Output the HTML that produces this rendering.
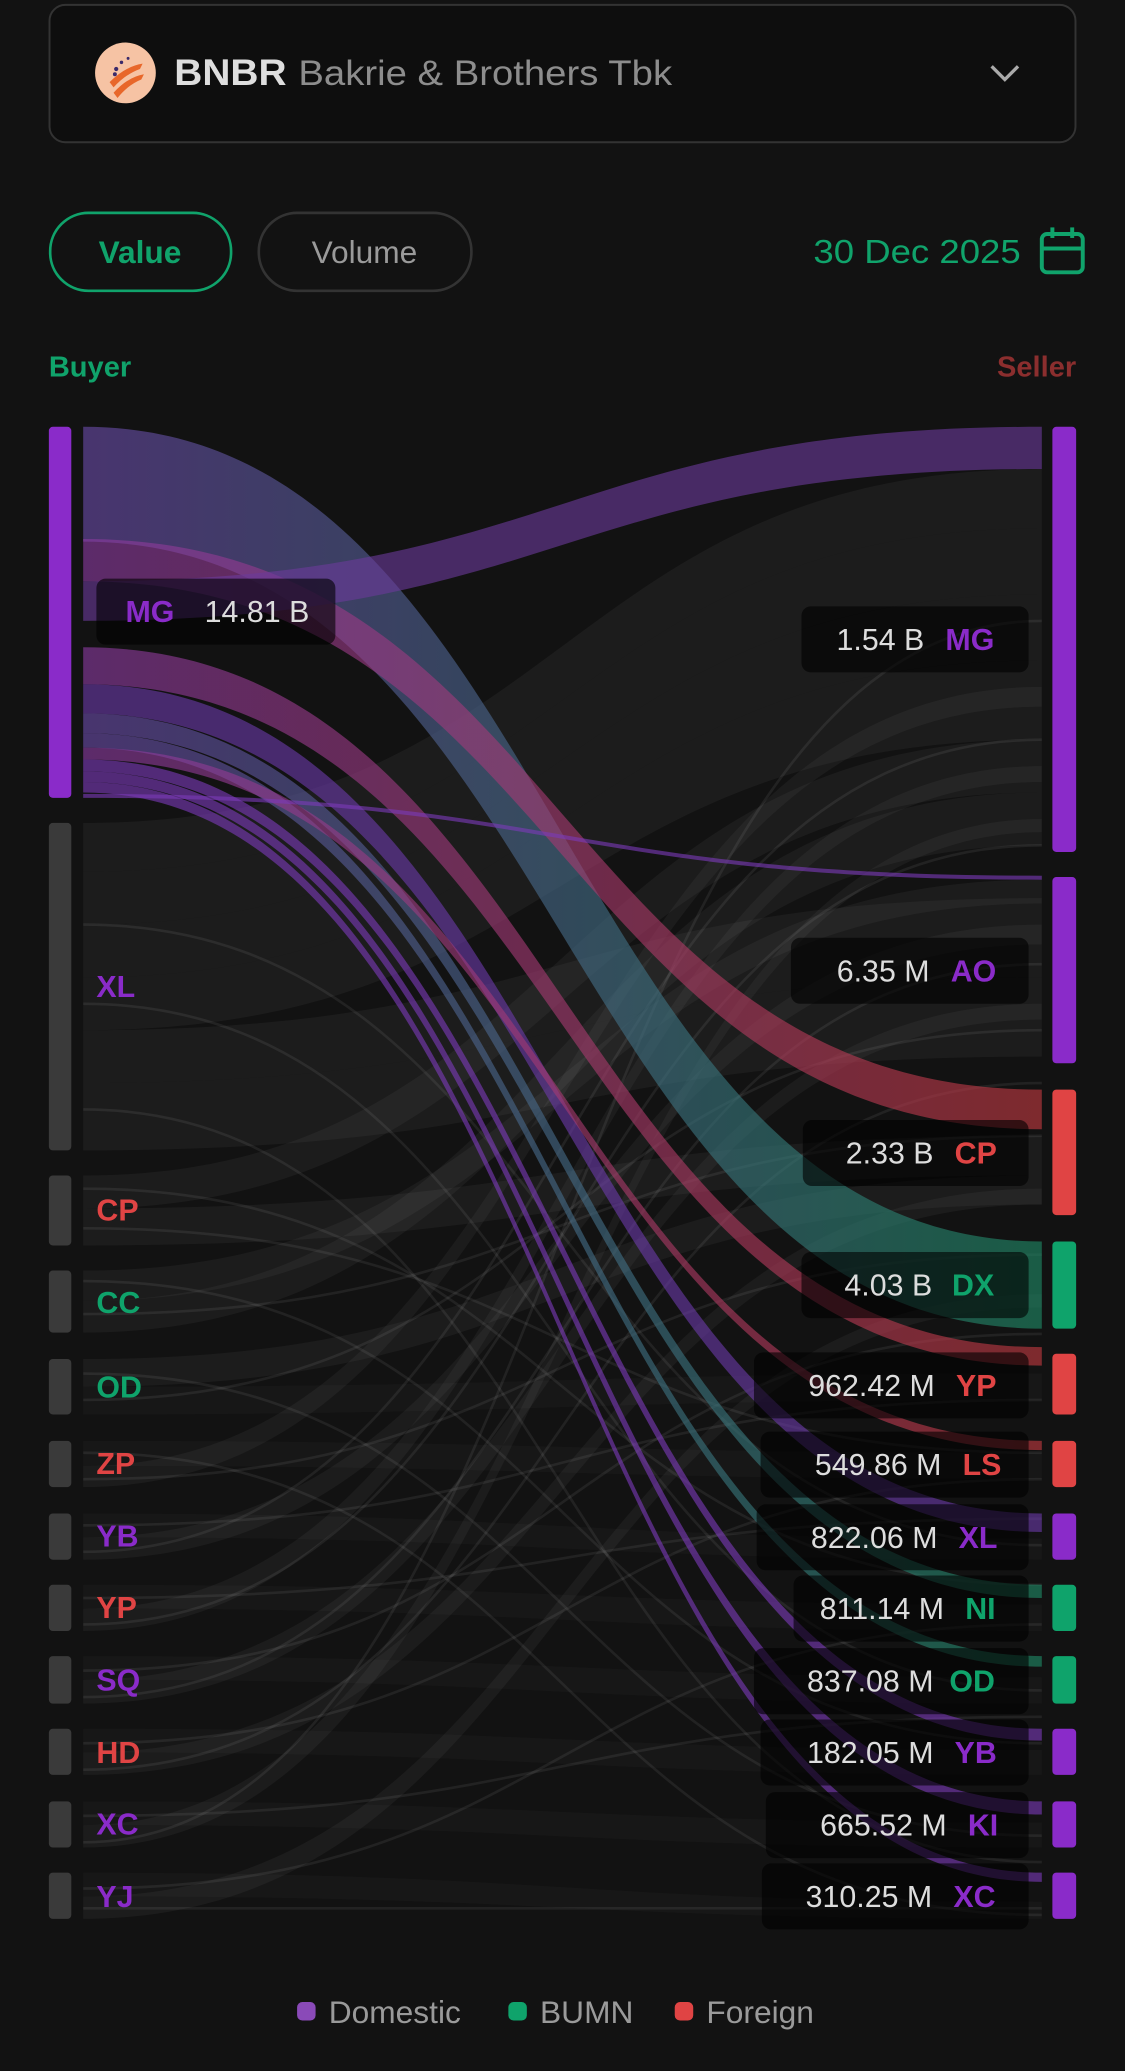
<!DOCTYPE html>
<html><head><meta charset="utf-8"><style>
html,body{margin:0;padding:0;background:#121212;}
svg{display:block}
text{font-family:"Liberation Sans",sans-serif;}
</style></head><body>
<svg width="1125" height="2071" viewBox="0 0 852 1568" xmlns="http://www.w3.org/2000/svg">
<defs>
<linearGradient id="gPG" x1="0" x2="1"><stop offset="0" stop-color="#6a4aa8"/><stop offset="1" stop-color="#1f8a66"/></linearGradient>
<linearGradient id="gPR" x1="0" x2="1"><stop offset="0" stop-color="#8a3aa0"/><stop offset="1" stop-color="#c0393f"/></linearGradient>
</defs>
<rect width="852" height="1568" fill="#121212"/>
<!-- header -->
<rect x="37.5" y="3.5" width="777" height="104" rx="12" fill="#0e0e0e" stroke="#333" stroke-width="1.5"/>
<circle cx="95" cy="55" r="23" fill="#f6c3a4"/>
<path d="M83 62 Q95 50 108 48 L106 52 Q95 56 86 66Z M86 70 Q97 58 109 56 L107 60 Q97 64 89 74Z" fill="#e8672a"/>
<circle cx="88" cy="52" r="1.6" fill="#3a2a6a"/><circle cx="92" cy="47" r="1.3" fill="#3a2a6a"/><circle cx="97" cy="44" r="1.1" fill="#3a2a6a"/><circle cx="87" cy="56" r="1.5" fill="#3a2a6a"/>
<text x="132" y="64" font-size="28" font-weight="bold" fill="#dedede" textLength="85" lengthAdjust="spacingAndGlyphs">BNBR</text>
<text x="226" y="64" font-size="27" fill="#8d8d8d" textLength="283" lengthAdjust="spacingAndGlyphs">Bakrie &amp; Brothers Tbk</text>
<path d="M751 50 L761 60 L771 50" fill="none" stroke="#aaa" stroke-width="2.5"/>
<!-- buttons -->
<rect x="38" y="161" width="137" height="59" rx="29" fill="none" stroke="#10a36b" stroke-width="2"/>
<text x="106" y="199" font-size="24" font-weight="bold" fill="#10a36b" text-anchor="middle">Value</text>
<rect x="196" y="161" width="161" height="59" rx="29" fill="none" stroke="#333" stroke-width="2"/>
<text x="276" y="199" font-size="24" fill="#9a9a9a" text-anchor="middle">Volume</text>
<text x="616" y="199" font-size="25" fill="#10a36b" textLength="157" lengthAdjust="spacingAndGlyphs">30 Dec 2025</text>
<rect x="789" y="177" width="31" height="29" rx="4" fill="none" stroke="#10a36b" stroke-width="3"/>
<line x1="789" y1="188" x2="820" y2="188" stroke="#10a36b" stroke-width="3"/>
<line x1="797" y1="172" x2="797" y2="180" stroke="#10a36b" stroke-width="3"/>
<line x1="812" y1="172" x2="812" y2="180" stroke="#10a36b" stroke-width="3"/>
<text x="37" y="285" font-size="22" font-weight="bold" fill="#10a36b">Buyer</text>
<text x="815" y="285" font-size="22" font-weight="bold" fill="#8b2e2e" text-anchor="end">Seller</text>

<!-- gray flows -->
<g fill="#ffffff" fill-opacity="0.045">
<path d="M63 623 C426 623 426 355 789 355 L789 400 C426 400 426 660 63 660Z"/>
<path d="M63 660 C426 660 426 400 789 400 L789 450 C426 450 426 700 63 700Z"/>
<path d="M63 700 C426 700 426 450 789 450 L789 500 C426 500 426 740 63 740Z"/>
<path d="M63 740 C426 740 426 500 789 500 L789 560 C426 560 426 780 63 780Z"/>
<path d="M63 780 C426 780 426 680 789 680 L789 740 C426 740 426 820 63 820Z"/>
<path d="M63 820 C426 820 426 740 789 740 L789 800 C426 800 426 871 63 871Z"/>
<path d="M63 890 C426 890 426 560 789 560 L789 600 C426 600 426 915 63 915Z"/>
<path d="M63 915 C426 915 426 860 789 860 L789 890 C426 890 426 943 63 943Z"/>
<path d="M63 962 C426 962 426 666 789 666 L789 684 C426 684 426 985 63 985Z"/>
<path d="M63 985 C426 985 426 600 789 600 L789 640 C426 640 426 1009 63 1009Z"/>
<path d="M63 1029 C426 1029 426 890 789 890 L789 912 C426 912 426 1050 63 1050Z"/>
<path d="M63 1110 C426 1110 426 520 789 520 L789 535 C426 535 426 1126 63 1126Z"/>
<path d="M63 1164 C426 1164 426 700 789 700 L789 715 C426 715 426 1181 63 1181Z"/>
<path d="M63 1218 C426 1218 426 580 789 580 L789 592 C426 592 426 1235 63 1235Z"/>
<path d="M63 1272 C426 1272 426 760 789 760 L789 772 C426 772 426 1290 63 1290Z"/>
<path d="M63 1327 C426 1327 426 900 789 900 L789 912 C426 912 426 1344 63 1344Z"/>
<path d="M63 1382 C426 1382 426 620 789 620 L789 630 C426 630 426 1399 63 1399Z"/>
<path d="M63 1436 C426 1436 426 980 789 980 L789 990 C426 990 426 1453 63 1453Z"/>
</g>
<g fill="#ffffff" fill-opacity="0.025">
<path d="M63 1050 C426 1050 426 1040 789 1040 L789 1060 C426 1060 426 1071 63 1071Z"/>
<path d="M63 1091 C426 1091 426 1100 789 1100 L789 1120 C426 1120 426 1110 63 1110Z"/>
<path d="M63 1146 C426 1146 426 1165 789 1165 L789 1181 C426 1181 426 1164 63 1164Z"/>
<path d="M63 1200 C426 1200 426 1215 789 1215 L789 1235 C426 1235 426 1218 63 1218Z"/>
<path d="M63 1254 C426 1254 426 1270 789 1270 L789 1290 C426 1290 426 1272 63 1272Z"/>
<path d="M63 1309 C426 1309 426 1325 789 1325 L789 1344 C426 1344 426 1327 63 1327Z"/>
<path d="M63 1364 C426 1364 426 1380 789 1380 L789 1399 C426 1399 426 1382 63 1382Z"/>
<path d="M63 1418 C426 1418 426 1440 789 1440 L789 1453 C426 1453 426 1436 63 1436Z"/>
</g>
<g fill="none" stroke="#ffffff" stroke-opacity="0.07" stroke-width="2">
<path d="M63 900 C426 900 426 1200 789 1200"/><path d="M63 970 C426 970 426 1320 789 1320"/>
<path d="M63 1040 C426 1040 426 1390 789 1390"/><path d="M63 1100 C426 1100 426 1450 789 1450"/>
<path d="M63 1155 C426 1155 426 1060 789 1060"/><path d="M63 1210 C426 1210 426 1150 789 1150"/>
<path d="M63 1265 C426 1265 426 1010 789 1010"/><path d="M63 1320 C426 1320 426 1120 789 1120"/>
<path d="M63 1375 C426 1375 426 1300 789 1300"/><path d="M63 1430 C426 1430 426 1230 789 1230"/>
<path d="M63 700 C426 700 426 1170 789 1170"/><path d="M63 760 C426 760 426 1280 789 1280"/>
<path d="M63 840 C426 840 426 1410 789 1410"/><path d="M63 930 C426 930 426 1100 789 1100"/>
<path d="M63 995 C426 995 426 860 789 860"/><path d="M63 1060 C426 1060 426 780 789 780"/>
<path d="M63 1120 C426 1120 426 950 789 950"/><path d="M63 1175 C426 1175 426 560 789 560"/>
<path d="M63 1230 C426 1230 426 640 789 640"/><path d="M63 1285 C426 1285 426 730 789 730"/>
<path d="M63 1340 C426 1340 426 820 789 820"/><path d="M63 1395 C426 1395 426 470 789 470"/>
<path d="M63 1445 C426 1445 426 1445 789 1445"/>
</g>

<!-- colored flows from MG -->
<g fill-opacity="0.62">
<path d="M63 323 C426 323 426 940 789 940 L789 1006 C426 1006 426 410 63 410Z" fill="url(#gPG)"/>
<path d="M63 408 C426 408 426 825 789 825 L789 855 C426 855 426 440 63 440Z" fill="url(#gPR)"/>
<path d="M63 440 C426 440 426 323 789 323 L789 355 C426 355 426 470 63 470Z" fill="#6a3a9a"/>
<path d="M63 490 C426 490 426 1020 789 1020 L789 1034 C426 1034 426 518 63 518Z" fill="url(#gPR)"/>
<path d="M63 518 C426 518 426 1146 789 1146 L789 1160 C426 1160 426 540 63 540Z" fill="#6a3aa8"/>
<path d="M63 540 C426 540 426 1200 789 1200 L789 1210 C426 1210 426 555 63 555Z" fill="url(#gPG)"/>
<path d="M63 555 C426 555 426 1254 789 1254 L789 1262 C426 1262 426 566 63 566Z" fill="url(#gPG)"/>
<path d="M63 566 C426 566 426 1091 789 1091 L789 1098 C426 1098 426 575 63 575Z" fill="url(#gPR)"/>
<path d="M63 575 C426 575 426 1309 789 1309 L789 1318 C426 1318 426 584 63 584Z" fill="#7a3ab8"/>
<path d="M63 584 C426 584 426 1364 789 1364 L789 1374 C426 1374 426 592 63 592Z" fill="#7a3ab8"/>
<path d="M63 592 C426 592 426 1418 789 1418 L789 1425 C426 1425 426 600 63 600Z" fill="#7a3ab8"/>
<path d="M63 601 C426 601 426 663 789 663 L789 666 C426 666 426 604 63 604Z" fill="#7a3ab8"/>
</g>

<!-- left bars -->
<g>
<rect x="37" y="323" width="17" height="281" rx="3" fill="#8a2bc9"/>
<rect x="37" y="623" width="17" height="248" rx="3" fill="#3a3a3a"/>
<rect x="37" y="890" width="17" height="53" rx="3" fill="#3a3a3a"/>
<rect x="37" y="962" width="17" height="47" rx="3" fill="#3a3a3a"/>
<rect x="37" y="1029" width="17" height="42" rx="3" fill="#3a3a3a"/>
<rect x="37" y="1091" width="17" height="35" rx="3" fill="#3a3a3a"/>
<rect x="37" y="1146" width="17" height="35" rx="3" fill="#3a3a3a"/>
<rect x="37" y="1200" width="17" height="35" rx="3" fill="#3a3a3a"/>
<rect x="37" y="1254" width="17" height="36" rx="3" fill="#3a3a3a"/>
<rect x="37" y="1309" width="17" height="35" rx="3" fill="#3a3a3a"/>
<rect x="37" y="1364" width="17" height="35" rx="3" fill="#3a3a3a"/>
<rect x="37" y="1418" width="17" height="35" rx="3" fill="#3a3a3a"/>
</g>
<!-- right bars -->
<g>
<rect x="797" y="323" width="18" height="322" rx="3" fill="#8a2bc9"/>
<rect x="797" y="664" width="18" height="141" rx="3" fill="#8a2bc9"/>
<rect x="797" y="825" width="18" height="95" rx="3" fill="#e04444"/>
<rect x="797" y="940" width="18" height="66" rx="3" fill="#0fa36b"/>
<rect x="797" y="1025" width="18" height="46" rx="3" fill="#e04444"/>
<rect x="797" y="1091" width="18" height="35" rx="3" fill="#e04444"/>
<rect x="797" y="1146" width="18" height="35" rx="3" fill="#8a2bc9"/>
<rect x="797" y="1200" width="18" height="35" rx="3" fill="#0fa36b"/>
<rect x="797" y="1254" width="18" height="36" rx="3" fill="#0fa36b"/>
<rect x="797" y="1309" width="18" height="35" rx="3" fill="#8a2bc9"/>
<rect x="797" y="1364" width="18" height="35" rx="3" fill="#8a2bc9"/>
<rect x="797" y="1418" width="18" height="35" rx="3" fill="#8a2bc9"/>
</g>

<!-- left labels -->
<g font-size="23" font-weight="bold">
<rect x="73" y="438" width="181" height="50" rx="7" fill="#000" fill-opacity="0.6"/>
<text x="95" y="471" fill="#8a2bc9">MG</text>
<text x="155" y="471" font-weight="normal" fill="#ddd">14.81 B</text>
<text x="73" y="755" fill="#8a2bc9">XL</text>
<text x="73" y="924" fill="#e04444">CP</text>
<text x="73" y="994" fill="#0fa36b">CC</text>
<text x="73" y="1058" fill="#0fa36b">OD</text>
<text x="73" y="1116" fill="#e04444">ZP</text>
<text x="73" y="1171" fill="#8a2bc9">YB</text>
<text x="73" y="1225" fill="#e04444">YP</text>
<text x="73" y="1280" fill="#8a2bc9">SQ</text>
<text x="73" y="1335" fill="#e04444">HD</text>
<text x="73" y="1389" fill="#8a2bc9">XC</text>
<text x="73" y="1444" fill="#8a2bc9">YJ</text>
</g>
<!-- right labels -->
<g font-size="23">
<rect x="607" y="459" width="172" height="50" rx="7" fill="#000" fill-opacity="0.6"/>
<text x="700" y="492" fill="#ddd" text-anchor="end">1.54 B</text><text x="716" y="492" font-weight="bold" fill="#8a2bc9">MG</text>
<rect x="599" y="710" width="180" height="50" rx="7" fill="#000" fill-opacity="0.6"/>
<text x="704" y="743" fill="#ddd" text-anchor="end">6.35 M</text><text x="720" y="743" font-weight="bold" fill="#8a2bc9">AO</text>
<rect x="608" y="848" width="171" height="50" rx="7" fill="#000" fill-opacity="0.6"/>
<text x="707" y="881" fill="#ddd" text-anchor="end">2.33 B</text><text x="723" y="881" font-weight="bold" fill="#e04444">CP</text>
<rect x="607" y="948" width="172" height="50" rx="7" fill="#000" fill-opacity="0.6"/>
<text x="706" y="981" fill="#ddd" text-anchor="end">4.03 B</text><text x="721" y="981" font-weight="bold" fill="#0fa36b">DX</text>
<rect x="571" y="1024" width="208" height="50" rx="7" fill="#000" fill-opacity="0.6"/>
<text x="708" y="1057" fill="#ddd" text-anchor="end">962.42 M</text><text x="724" y="1057" font-weight="bold" fill="#e04444">YP</text>
<rect x="576" y="1084" width="203" height="50" rx="7" fill="#000" fill-opacity="0.6"/>
<text x="713" y="1117" fill="#ddd" text-anchor="end">549.86 M</text><text x="729" y="1117" font-weight="bold" fill="#e04444">LS</text>
<rect x="573" y="1139" width="206" height="50" rx="7" fill="#000" fill-opacity="0.6"/>
<text x="710" y="1172" fill="#ddd" text-anchor="end">822.06 M</text><text x="726" y="1172" font-weight="bold" fill="#8a2bc9">XL</text>
<rect x="601" y="1193" width="178" height="50" rx="7" fill="#000" fill-opacity="0.6"/>
<text x="715" y="1226" fill="#ddd" text-anchor="end">811.14 M</text><text x="731" y="1226" font-weight="bold" fill="#0fa36b">NI</text>
<rect x="571" y="1248" width="208" height="50" rx="7" fill="#000" fill-opacity="0.6"/>
<text x="707" y="1281" fill="#ddd" text-anchor="end">837.08 M</text><text x="719" y="1281" font-weight="bold" fill="#0fa36b">OD</text>
<rect x="576" y="1302" width="203" height="50" rx="7" fill="#000" fill-opacity="0.6"/>
<text x="707" y="1335" fill="#ddd" text-anchor="end">182.05 M</text><text x="723" y="1335" font-weight="bold" fill="#8a2bc9">YB</text>
<rect x="580" y="1357" width="199" height="50" rx="7" fill="#000" fill-opacity="0.6"/>
<text x="717" y="1390" fill="#ddd" text-anchor="end">665.52 M</text><text x="733" y="1390" font-weight="bold" fill="#8a2bc9">KI</text>
<rect x="577" y="1411" width="202" height="50" rx="7" fill="#000" fill-opacity="0.6"/>
<text x="706" y="1444" fill="#ddd" text-anchor="end">310.25 M</text><text x="722" y="1444" font-weight="bold" fill="#8a2bc9">XC</text>
</g>

<!-- legend -->
<rect x="225" y="1516" width="14" height="14" rx="4" fill="#8a4ab8"/>
<text x="249" y="1532" font-size="24" fill="#9a9a9a">Domestic</text>
<rect x="385" y="1516" width="14" height="14" rx="4" fill="#0fa36b"/>
<text x="409" y="1532" font-size="24" fill="#9a9a9a">BUMN</text>
<rect x="511" y="1516" width="14" height="14" rx="4" fill="#e04444"/>
<text x="535" y="1532" font-size="24" fill="#9a9a9a">Foreign</text>
</svg>
</body></html>
